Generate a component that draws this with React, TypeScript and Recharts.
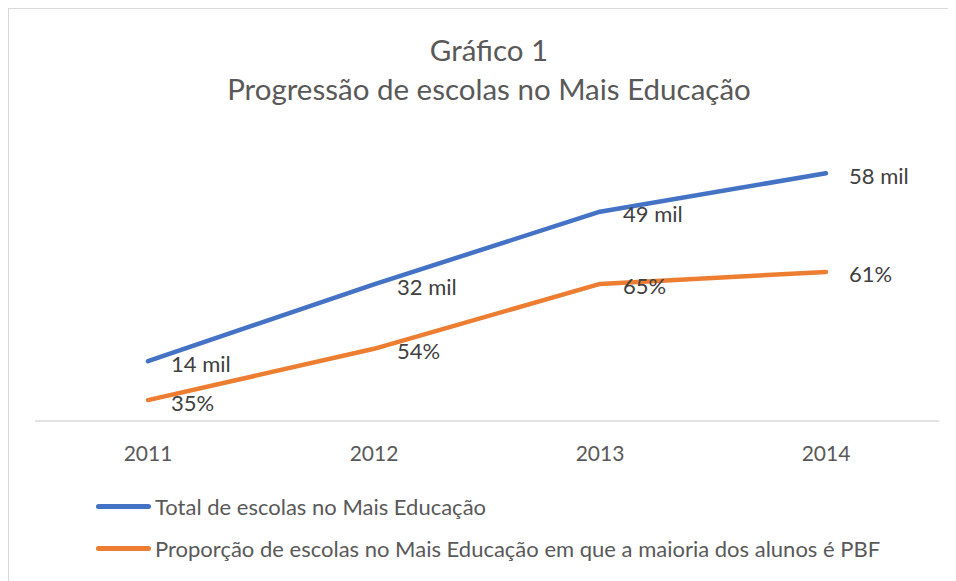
import { LineChart, Line, XAxis, YAxis, LabelList } from "recharts";

const years = ["2011", "2012", "2013", "2014"];
// total de escolas (mil)
const totalEscolas = [14, 32, 49, 58];
// escolas com maioria PBF (mil) - plotted height, labelled as a share
const escolasPbf = [4.9, 16.9, 32.1, 34.9];
const totalLabels = ["14 mil", "32 mil", "49 mil", "58 mil"];
const pbfLabels = ["35%", "54%", "65%", "61%"];
const seriesNames = [
  "Total de escolas no Mais Educação",
  "Proporção de escolas no Mais Educação em que a maioria dos alunos é PBF",
];

const BLUE = "#4472C4";
const ORANGE = "#ED7D31";
const FONT = "Lato, 'Open Sans', sans-serif";

const data = years.map((year, i) => ({
  year,
  total: totalEscolas[i],
  pbf: escolasPbf[i],
  totalLabel: totalLabels[i],
  pbfLabel: pbfLabels[i],
}));

const PointLabel = (props: any) => {
  const { x, y, value } = props;
  return (
    <text
      x={x + 23}
      y={y + 2}
      dominantBaseline="central"
      fill="#404040"
      fontSize={22}
      fontFamily={FONT}
    >
      {value}
    </text>
  );
};

export default function App() {
  return (
    <div
      style={{
        position: "relative",
        width: 948,
        height: 573,
        boxSizing: "border-box",
        borderLeft: "1px solid #d9d9d9",
        borderTop: "1px solid #d9d9d9",
        background: "#fff",
        overflow: "hidden",
        fontFamily: FONT,
      }}
    >
      <div
        style={{
          position: "absolute",
          top: 21,
          left: 0,
          width: 960,
          textAlign: "center",
          color: "#595959",
          fontSize: 29.5,
          lineHeight: "39px",
        }}
      >
        <div>Gráfico 1</div>
        <div>Progressão de escolas no Mais Educação</div>
      </div>

      <LineChart
        width={947}
        height={564}
        data={data}
        margin={{ top: 113, right: 17, bottom: 112, left: 26 }}
      >
        <XAxis
          dataKey="year"
          height={40}
          padding={{ left: 113, right: 113 }}
          tickLine={false}
          tickSize={0}
          tickMargin={25}
          axisLine={{ stroke: "#d9d9d9", strokeWidth: 1.5 }}
          tick={{ fill: "#595959", fontSize: 21, fontFamily: FONT }}
        />
        <YAxis hide domain={[0, 70]} />
        <Line
          dataKey="total"
          stroke={BLUE}
          strokeWidth={4.5}
          strokeLinecap="round"
          strokeLinejoin="round"
          dot={false}
          isAnimationActive={false}
        >
          <LabelList dataKey="totalLabel" content={PointLabel} />
        </Line>
        <Line
          dataKey="pbf"
          stroke={ORANGE}
          strokeWidth={4.5}
          strokeLinecap="round"
          strokeLinejoin="round"
          dot={false}
          isAnimationActive={false}
        >
          <LabelList dataKey="pbfLabel" content={PointLabel} />
        </Line>
      </LineChart>

      <div
        style={{
          position: "absolute",
          left: 87,
          top: 476,
          color: "#595959",
          fontSize: 22,
        }}
      >
        {seriesNames.map((name, i) => (
          <div
            key={name}
            style={{ display: "flex", alignItems: "center", height: 42 }}
          >
            <span
              style={{
                width: 55,
                height: 5,
                borderRadius: 3,
                marginRight: 4,
                background: i === 0 ? BLUE : ORANGE,
              }}
            />
            <span style={{ whiteSpace: "nowrap" }}>{name}</span>
          </div>
        ))}
      </div>
    </div>
  );
}
